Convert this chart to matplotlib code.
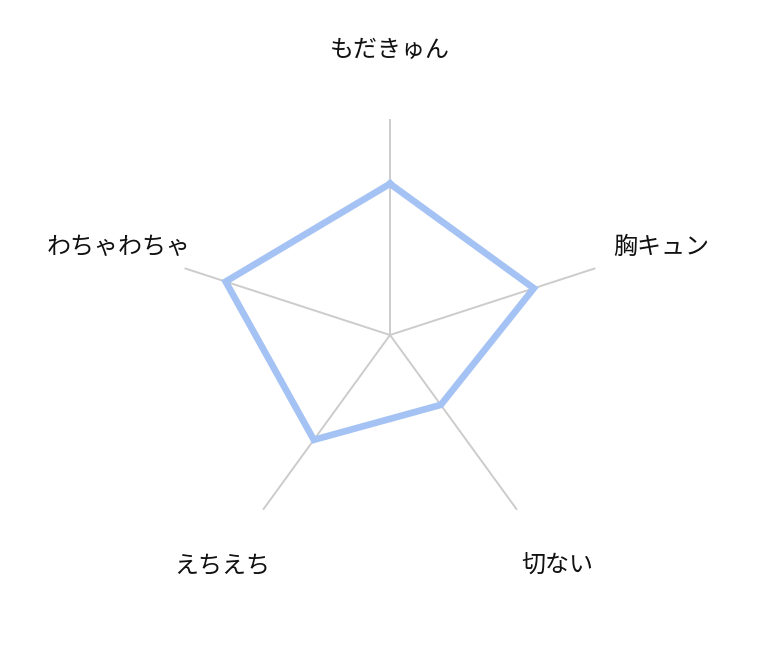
import numpy as np
import matplotlib
matplotlib.use("Agg")
from matplotlib import pyplot as plt

plt.rcParams['font.family'] = ['Noto Sans CJK JP', 'DejaVu Sans']

# 項目と値 (最大 10)
categories = ["もだきゅん", "胸キュン", "切ない", "えちえち", "わちゃわちゃ"]
values = [7, 7, 4, 6, 8]
r_max = 10

fig = plt.figure(figsize=(7.81, 6.72), dpi=100)
# 中心 (390, 335) px, 半径 216 px
ax = fig.add_axes([174/781, (672-551)/672, 432/781, 432/672], projection='polar')
ax.set_theta_offset(np.pi/2)
ax.set_theta_direction(-1)
ax.set_ylim(0, r_max)
ax.grid(False)
ax.set_xticks([])
ax.set_yticks([])
ax.spines['polar'].set_visible(False)
ax.patch.set_alpha(0)

n = len(categories)
angles = np.arange(n) * 2*np.pi/n

# 軸線
for a in angles:
    ax.plot([a, a], [0, r_max], color='#cccccc', lw=1.4, zorder=1)

# データ
th = np.append(angles, angles[0])
vals = np.append(values, values[0])
ax.plot(th, vals, color='#a4c2f4', lw=4.8, solid_joinstyle='miter', zorder=3, clip_on=False)

# ラベル
for a, c in zip(angles, categories):
    ax.text(a, 13.2, c, ha='center', va='center', fontsize=17.3, color='#111111')

fig.savefig("out.png", dpi=100)
